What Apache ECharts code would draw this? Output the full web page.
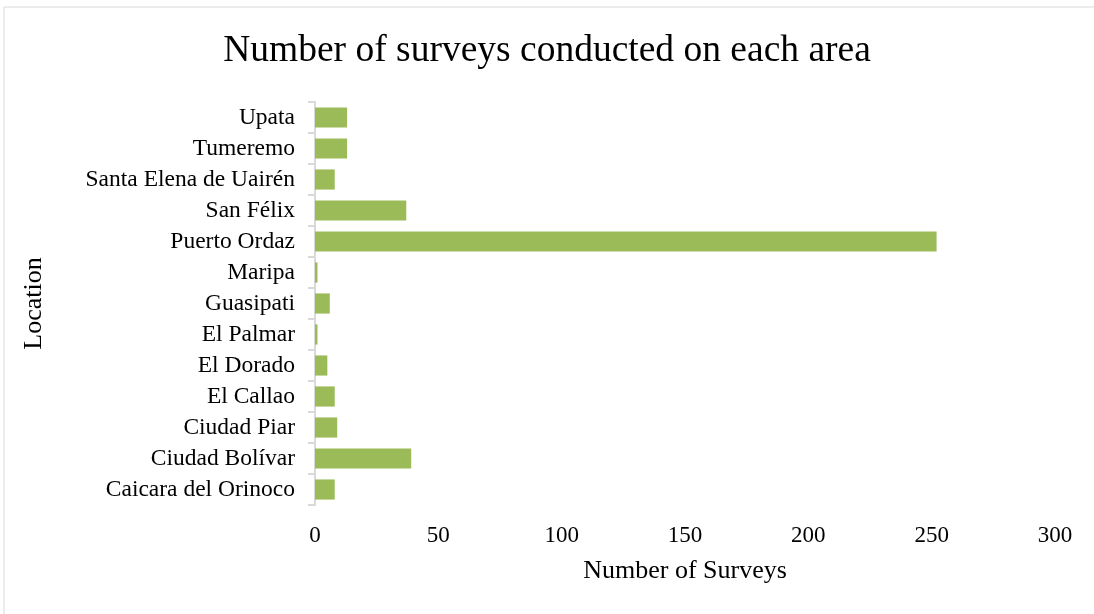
<!DOCTYPE html>
<html>
<head>
<meta charset="utf-8">
<script src="https://cdn.jsdelivr.net/npm/echarts@6/dist/echarts.min.js"></script>
<style>
  html, body { margin: 0; padding: 0; background: #fff; }
  #chart { width: 1094px; height: 614px; }
</style>
</head>
<body>
<div id="chart"></div>
<script>
// categories bottom -> top
const locations = [
  'Caicara del Orinoco', 'Ciudad Bolívar', 'Ciudad Piar', 'El Callao', 'El Dorado',
  'El Palmar', 'Guasipati', 'Maripa', 'Puerto Ordaz', 'San Félix',
  'Santa Elena de Uairén', 'Tumeremo', 'Upata'
];
const surveys = [8, 39, 9, 8, 5, 1, 6, 1, 252, 37, 8, 13, 13];
const xTicks = [0, 300, 50]; // min, max, interval

const fontFamily = '"Liberation Serif", "Times New Roman", serif';
const fontColor = '#000';
const lineColor = '#d9d9d9';

const chart = echarts.init(document.getElementById('chart'));
chart.setOption({
  animation: false,
  backgroundColor: '#fff',
  textStyle: { fontFamily: fontFamily },
  graphic: [{
    type: 'rect',
    shape: { x: 4, y: 7, width: 1200, height: 700 },
    style: { fill: 'none', stroke: lineColor, lineWidth: 1 },
    silent: true
  }],
  title: {
    text: 'Number of surveys conducted on each area',
    left: 'center',
    top: 27,
    textStyle: { fontFamily: fontFamily, fontSize: 37.5, fontWeight: 'normal', color: fontColor }
  },
  grid: { left: 315, right: 39, top: 102, bottom: 109, containLabel: false },
  xAxis: {
    type: 'value',
    min: xTicks[0],
    max: xTicks[1],
    interval: xTicks[2],
    name: 'Number of Surveys',
    nameLocation: 'middle',
    nameGap: 53,
    nameTextStyle: { fontFamily: fontFamily, fontSize: 26, color: fontColor },
    axisLine: { show: false },
    axisTick: { show: false },
    splitLine: { show: false },
    axisLabel: { fontFamily: fontFamily, fontSize: 23, color: fontColor, margin: 19 }
  },
  yAxis: {
    type: 'category',
    data: locations,
    name: 'Location',
    nameLocation: 'middle',
    nameGap: 268,
    nameTextStyle: { fontFamily: fontFamily, fontSize: 26, color: fontColor },
    axisLine: { show: true, lineStyle: { color: lineColor, width: 2 } },
    axisTick: { show: true, interval: 0, length: 7, lineStyle: { color: lineColor, width: 2 } },
    axisLabel: { interval: 0, fontFamily: fontFamily, fontSize: 23.5, color: fontColor, margin: 20 },
    splitLine: { show: false }
  },
  series: [{
    type: 'bar',
    data: surveys,
    barCategoryGap: '35%',
    itemStyle: { color: '#9bbb59' }
  }]
});
</script>
</body>
</html>
